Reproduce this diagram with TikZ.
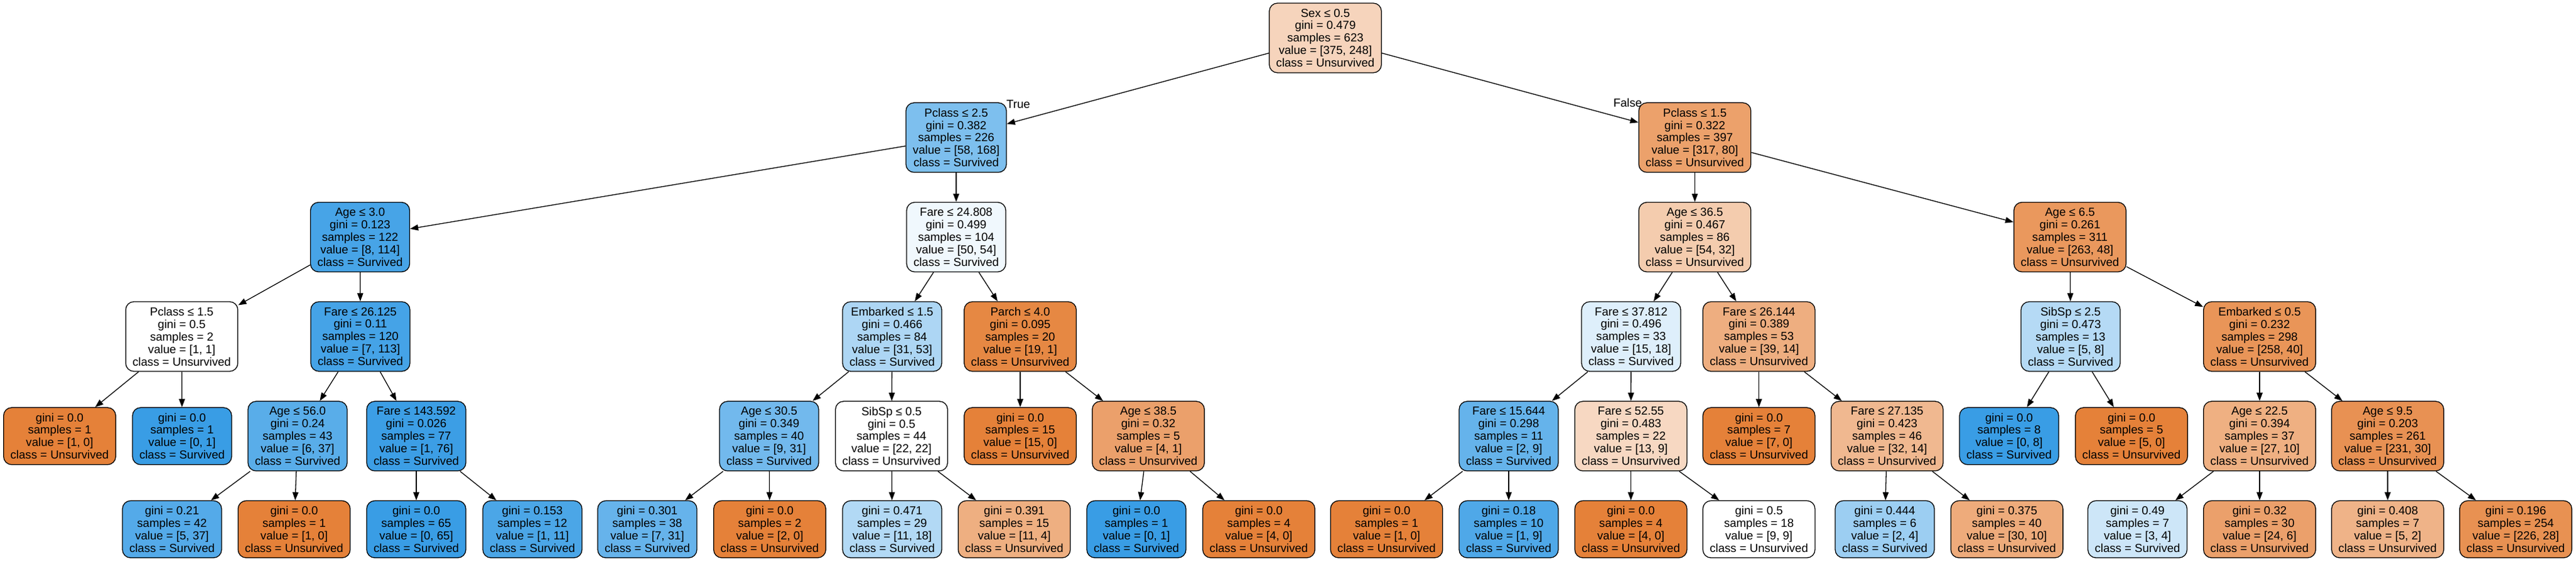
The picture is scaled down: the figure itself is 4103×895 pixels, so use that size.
\documentclass[tikz,border=0pt]{standalone}
\usepackage{fontspec}
\setmainfont{Liberation Sans}
\usetikzlibrary{arrows.meta}
\definecolor{oC}{RGB}{229,129,57}
\definecolor{bC}{RGB}{57,157,229}
\tikzset{
  box/.style={draw=black, line width=1.3bp, rounded corners=13bp, align=center,
    inner xsep=11bp, inner ysep=0bp, minimum height=111bp,
    font=\fontsize{18.67}{20}\selectfont},
  leafbox/.style={box, minimum height=91bp},
  conn/.style={draw=black, line width=1.3bp, -{Triangle[length=13bp,width=9.5bp]}},
  lbl/.style={inner sep=0pt, font=\fontsize{18.67}{20}\selectfont}
}
\begin{document}
\begin{tikzpicture}[x=1bp, y=-1bp]
\useasboundingbox (0,0) rectangle (4103,895);
% level 0
\node[box, fill=oC!34!white] (root) at (2111,60.5) {Sex ≤ 0.5\\gini = 0.479\\samples = 623\\value = [375, 248]\\class = Unsurvived};
% level 1
\node[box, fill=bC!65.5!white] (L) at (1523,219.3) {Pclass ≤ 2.5\\gini = 0.382\\samples = 226\\value = [58, 168]\\class = Survived};
\node[box, fill=oC!74.8!white] (R) at (2699.5,219.3) {Pclass ≤ 1.5\\gini = 0.322\\samples = 397\\value = [317, 80]\\class = Unsurvived};
% level 2
\node[box, fill=bC!93!white] (LL) at (573.5,378) {Age ≤ 3.0\\gini = 0.123\\samples = 122\\value = [8, 114]\\class = Survived};
\node[box, fill=bC!7.4!white] (LR) at (1523,378) {Fare ≤ 24.808\\gini = 0.499\\samples = 104\\value = [50, 54]\\class = Survived};
\node[box, fill=oC!40.7!white] (RL) at (2699.5,378) {Age ≤ 36.5\\gini = 0.467\\samples = 86\\value = [54, 32]\\class = Unsurvived};
\node[box, fill=oC!81.7!white] (RR) at (3297,378) {Age ≤ 6.5\\gini = 0.261\\samples = 311\\value = [263, 48]\\class = Unsurvived};
% level 3
\node[box, fill=white] (LLL) at (289.5,536.5) {Pclass ≤ 1.5\\gini = 0.5\\samples = 2\\value = [1, 1]\\class = Unsurvived};
\node[box, fill=bC!93.8!white] (LLR) at (574,536.5) {Fare ≤ 26.125\\gini = 0.11\\samples = 120\\value = [7, 113]\\class = Survived};
\node[box, fill=bC!41.5!white] (LRL) at (1421,536.5) {Embarked ≤ 1.5\\gini = 0.466\\samples = 84\\value = [31, 53]\\class = Survived};
\node[box, fill=oC!94.7!white] (LRR) at (1625,536.5) {Parch ≤ 4.0\\gini = 0.095\\samples = 20\\value = [19, 1]\\class = Unsurvived};
\node[box, fill=bC!16.7!white] (RLL) at (2598,536.5) {Fare ≤ 37.812\\gini = 0.496\\samples = 33\\value = [15, 18]\\class = Survived};
\node[box, fill=oC!64.1!white] (RLR) at (2801.6,536.5) {Fare ≤ 26.144\\gini = 0.389\\samples = 53\\value = [39, 14]\\class = Unsurvived};
\node[box, fill=bC!37.5!white] (RRL) at (3298,536.5) {SibSp ≤ 2.5\\gini = 0.473\\samples = 13\\value = [5, 8]\\class = Survived};
\node[box, fill=oC!84.5!white] (RRR) at (3599,536.5) {Embarked ≤ 0.5\\gini = 0.232\\samples = 298\\value = [258, 40]\\class = Unsurvived};
% level 4
\node[leafbox, fill=oC] (LLLL) at (95,695.3) {gini = 0.0\\samples = 1\\value = [1, 0]\\class = Unsurvived};
\node[leafbox, fill=bC] (LLLR) at (290,695.3) {gini = 0.0\\samples = 1\\value = [0, 1]\\class = Survived};
\node[box, fill=bC!83.8!white] (LLRL) at (474,695.3) {Age ≤ 56.0\\gini = 0.24\\samples = 43\\value = [6, 37]\\class = Survived};
\node[box, fill=bC!98.7!white] (LLRR) at (663,695.3) {Fare ≤ 143.592\\gini = 0.026\\samples = 77\\value = [1, 76]\\class = Survived};
\node[box, fill=bC!71!white] (LRLL) at (1225,695.3) {Age ≤ 30.5\\gini = 0.349\\samples = 40\\value = [9, 31]\\class = Survived};
\node[box, fill=white] (LRLR) at (1420,695.3) {SibSp ≤ 0.5\\gini = 0.5\\samples = 44\\value = [22, 22]\\class = Unsurvived};
\node[leafbox, fill=oC] (LRRL) at (1625,695.3) {gini = 0.0\\samples = 15\\value = [15, 0]\\class = Unsurvived};
\node[box, fill=oC!75!white] (LRRR) at (1829,695.3) {Age ≤ 38.5\\gini = 0.32\\samples = 5\\value = [4, 1]\\class = Unsurvived};
\node[box, fill=bC!77.8!white] (RLLL) at (2403,695.3) {Fare ≤ 15.644\\gini = 0.298\\samples = 11\\value = [2, 9]\\class = Survived};
\node[box, fill=oC!30.8!white] (RLLR) at (2597.6,695.3) {Fare ≤ 52.55\\gini = 0.483\\samples = 22\\value = [13, 9]\\class = Unsurvived};
\node[leafbox, fill=oC] (RLRL) at (2801.6,695.3) {gini = 0.0\\samples = 7\\value = [7, 0]\\class = Unsurvived};
\node[box, fill=oC!56.3!white] (RLRR) at (3005.7,695.3) {Fare ≤ 27.135\\gini = 0.423\\samples = 46\\value = [32, 14]\\class = Unsurvived};
\node[leafbox, fill=bC] (RRLL) at (3200,695.3) {gini = 0.0\\samples = 8\\value = [0, 8]\\class = Survived};
\node[leafbox, fill=oC] (RRLR) at (3395,695.3) {gini = 0.0\\samples = 5\\value = [5, 0]\\class = Unsurvived};
\node[box, fill=oC!63!white] (RRRL) at (3599,695.3) {Age ≤ 22.5\\gini = 0.394\\samples = 37\\value = [27, 10]\\class = Unsurvived};
\node[box, fill=oC!87!white] (RRRR) at (3803,695.3) {Age ≤ 9.5\\gini = 0.203\\samples = 261\\value = [231, 30]\\class = Unsurvived};
% level 5
\node[leafbox, fill=bC!86.5!white] (LLRLL) at (274,843.8) {gini = 0.21\\samples = 42\\value = [5, 37]\\class = Survived};
\node[leafbox, fill=oC] (LLRLR) at (468.5,843.8) {gini = 0.0\\samples = 1\\value = [1, 0]\\class = Unsurvived};
\node[leafbox, fill=bC] (LLRRL) at (663,843.8) {gini = 0.0\\samples = 65\\value = [0, 65]\\class = Survived};
\node[leafbox, fill=bC!90.9!white] (LLRRR) at (848,843.8) {gini = 0.153\\samples = 12\\value = [1, 11]\\class = Survived};
\node[leafbox, fill=bC!77.4!white] (LRLLL) at (1031,843.8) {gini = 0.301\\samples = 38\\value = [7, 31]\\class = Survived};
\node[leafbox, fill=oC] (LRLLR) at (1226,843.8) {gini = 0.0\\samples = 2\\value = [2, 0]\\class = Unsurvived};
\node[leafbox, fill=bC!38.9!white] (LRLRL) at (1421,843.8) {gini = 0.471\\samples = 29\\value = [11, 18]\\class = Survived};
\node[leafbox, fill=oC!63.6!white] (LRLRR) at (1615.5,843.8) {gini = 0.391\\samples = 15\\value = [11, 4]\\class = Unsurvived};
\node[leafbox, fill=bC] (LRRRL) at (1810,843.8) {gini = 0.0\\samples = 1\\value = [0, 1]\\class = Survived};
\node[leafbox, fill=oC] (LRRRR) at (2005,843.8) {gini = 0.0\\samples = 4\\value = [4, 0]\\class = Unsurvived};
\node[leafbox, fill=oC] (RLLLL) at (2208.5,843.8) {gini = 0.0\\samples = 1\\value = [1, 0]\\class = Unsurvived};
\node[leafbox, fill=bC!88.9!white] (RLLLR) at (2403,843.8) {gini = 0.18\\samples = 10\\value = [1, 9]\\class = Survived};
\node[leafbox, fill=oC] (RLLRL) at (2597.6,843.8) {gini = 0.0\\samples = 4\\value = [4, 0]\\class = Unsurvived};
\node[leafbox, fill=white] (RLLRR) at (2801.6,843.8) {gini = 0.5\\samples = 18\\value = [9, 9]\\class = Unsurvived};
\node[leafbox, fill=bC!50!white] (RLRRL) at (3002,843.8) {gini = 0.444\\samples = 6\\value = [2, 4]\\class = Survived};
\node[leafbox, fill=oC!66.7!white] (RLRRR) at (3196.5,843.8) {gini = 0.375\\samples = 40\\value = [30, 10]\\class = Unsurvived};
\node[leafbox, fill=bC!25!white] (RRRLL) at (3404.5,843.8) {gini = 0.49\\samples = 7\\value = [3, 4]\\class = Survived};
\node[leafbox, fill=oC!75!white] (RRRLR) at (3599,843.8) {gini = 0.32\\samples = 30\\value = [24, 6]\\class = Unsurvived};
\node[leafbox, fill=oC!60!white] (RRRRL) at (3803,843.8) {gini = 0.408\\samples = 7\\value = [5, 2]\\class = Unsurvived};
\node[leafbox, fill=oC!87.6!white] (RRRRR) at (4007,843.8) {gini = 0.196\\samples = 254\\value = [226, 28]\\class = Unsurvived};
% edge labels
\node[lbl] (tlab) at (1622,166) {True};
\node[lbl] (flab) at (2592.5,163.5) {False};
% connectors
\foreach \p/\c in {root/L, root/R,
  L/LL, L/LR, R/RL, R/RR,
  LL/LLL, LL/LLR, LR/LRL, LR/LRR, RL/RLL, RL/RLR, RR/RRL, RR/RRR,
  LLL/LLLL, LLL/LLLR, LLR/LLRL, LLR/LLRR, LRL/LRLL, LRL/LRLR, LRR/LRRL, LRR/LRRR,
  RLL/RLLL, RLL/RLLR, RLR/RLRL, RLR/RLRR, RRL/RRLL, RRL/RRLR, RRR/RRRL, RRR/RRRR,
  LLRL/LLRLL, LLRL/LLRLR, LLRR/LLRRL, LLRR/LLRRR, LRLL/LRLLL, LRLL/LRLLR,
  LRLR/LRLRL, LRLR/LRLRR, LRRR/LRRRL, LRRR/LRRRR, RLLL/RLLLL, RLLL/RLLLR,
  RLLR/RLLRL, RLLR/RLLRR, RLRR/RLRRL, RLRR/RLRRR, RRRL/RRRLL, RRRL/RRRLR,
  RRRR/RRRRL, RRRR/RRRRR}
  \draw[conn] (\p) -- (\c);
\end{tikzpicture}
\end{document}
